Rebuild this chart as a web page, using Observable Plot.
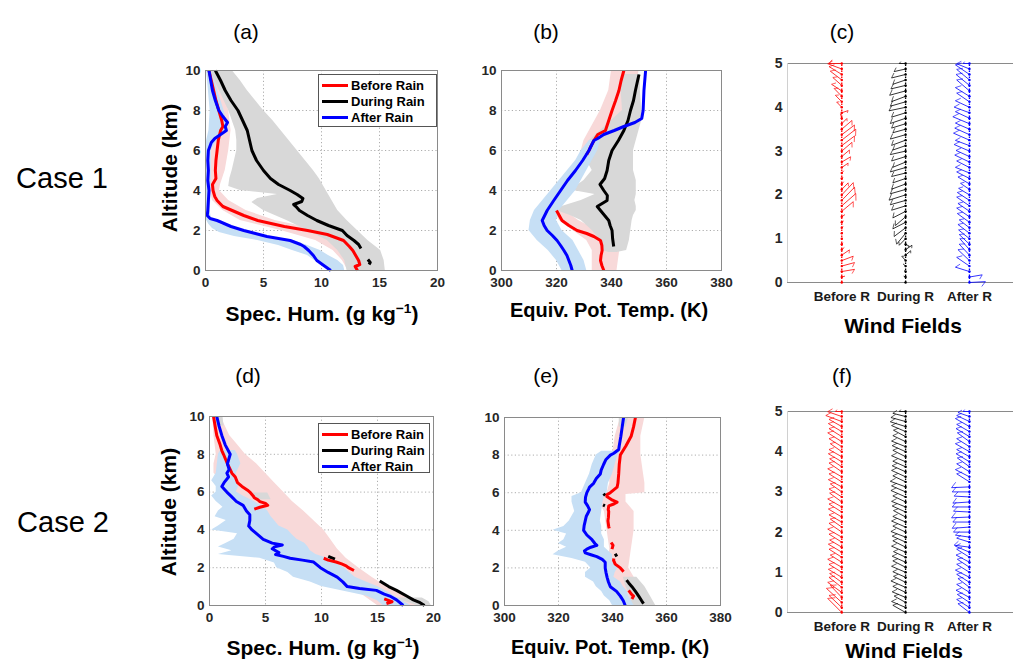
<!DOCTYPE html>
<html><head><meta charset="utf-8">
<script src="https://cdn.jsdelivr.net/npm/d3@7"></script>
<script src="https://cdn.jsdelivr.net/npm/@observablehq/plot@0.6"></script>
<style>
body{margin:0;background:#fff;}
#wrap{position:relative;width:1013px;height:662px;overflow:hidden;font-family:"Liberation Sans",Arial,sans-serif;color:#000;}
#wrap svg{position:absolute;left:0;top:0;}
.lbl{position:absolute;white-space:nowrap;line-height:1;}
.lbl sup{font-size:0.65em;vertical-align:0.55em;line-height:0;}
.legend{position:absolute;border:1px solid #555;background:#fff;box-sizing:border-box;font-weight:bold;font-size:13px;padding:2px 0 0 3px;white-space:nowrap;}
.legend .row{display:flex;align-items:center;height:16px;}
.legend .sw{display:inline-block;width:26px;height:3px;margin-right:3px;flex:none;}
</style></head>
<body><div id="wrap"></div>
<script>
// ---------- Case 1 : specific humidity (g/kg), rows are [altitude km, value] ----------
const a_before = [[10,0.3],[9.5,0.5],[9,0.7],[8.5,0.9],[8,1.15],[7.5,1.4],[7.2,1.5],[7,1.3],[6.5,1.1],[6,1.0],[5.5,0.9],[5,0.85],[4.6,0.9],[4.3,0.6],[4,0.65],[3.7,0.8],[3.5,1.0],[3.2,1.5],[3,2.3],[2.75,3.3],[2.5,4.5],[2.2,6.8],[2,8.8],[1.8,10.5],[1.5,11.9],[1.2,12.4],[1,12.7],[0.7,13.0],[0.5,13.2],[0.3,13.3],[0.2,12.9],[0,13.1]];
const a_during = [[10,0.85],[9.5,1.3],[9,1.7],[8.5,2.2],[8,2.8],[7.5,3.2],[7,3.6],[6.5,3.8],[6,4.0],[5.5,4.4],[5,5.0],[4.6,5.6],[4.3,6.3],[4,7.3],[3.8,7.9],[3.6,8.4],[3.45,8.3],[3.3,7.6],[3.2,7.8],[3,8.1],[2.75,8.8],[2.5,9.6],[2.25,10.6],[2,11.8],[1.75,12.2],[1.5,12.8],[1.3,13.2],[1.1,13.4],[1.0,NaN],[0.55,14.0],[0.4,14.2],[0.3,14.1]];
const a_after = [[10,0.3],[9.5,0.45],[9,0.6],[8.5,0.85],[8,1.15],[7.7,1.5],[7.4,1.9],[7.2,1.7],[7,1.8],[6.8,1.3],[6.6,0.8],[6.4,0.5],[6,0.25],[5.5,0.2],[5,0.25],[4.5,0.2],[4,0.3],[3.5,0.25],[3,0.2],[2.75,0.15],[2.6,0.4],[2.5,1.0],[2.3,1.8],[2.2,2.2],[2,3.3],[1.85,4.3],[1.7,5.3],[1.5,7.3],[1.3,8.2],[1.2,8.5],[1,8.9],[0.75,9.3],[0.5,9.6],[0.25,10.2],[0,10.8]];
// spread bands: [altitude, low, high]
const a_grayBand = [[10,0.3,2.3],[9.5,0.8,3.0],[9,1.2,3.6],[8.5,1.6,4.3],[8,2.0,5.0],[7.5,2.3,5.8],[7,2.6,6.5],[6.5,2.7,7.2],[6,2.7,7.9],[5.5,2.5,8.6],[5,2.3,9.3],[4.6,2.1,9.8],[4.2,2.0,10.2],[4.0,3.0,10.4],[3.8,6.2,10.6],[3.6,4.5,10.8],[3.4,4.0,11.0],[3.0,5.0,11.4],[2.5,7.0,12.2],[2,8.8,13.1],[1.5,10.5,14.0],[1,11.4,15.1],[0.5,12.0,15.4],[0,12.2,15.5]];
const a_pinkBand = [[10,0.2,0.9],[9,0.4,1.5],[8,0.5,2.0],[7,0.6,2.2],[6,0.5,2.0],[5,0.5,1.7],[4.3,0.4,1.3],[4,0.4,1.2],[3.5,0.6,2.0],[3,1.5,3.5],[2.5,3.0,6.0],[2,6.5,10.0],[1.5,9.5,12.5],[1,11.0,13.5],[0.5,11.8,13.8],[0,12.3,14.0]];
const a_blueBand = [[10,0.1,0.5],[8,0.4,1.6],[7,0.3,2.0],[6.5,0.1,1.0],[6,0,0.5],[4,0,0.5],[3,0,0.4],[2.6,0,0.5],[2.3,0.3,1.3],[2.1,0.6,2.5],[1.9,1.2,3.5],[1.7,2.5,5.0],[1.5,4.5,7.6],[1.25,6.3,8.8],[1,7.5,9.9],[0.75,8.8,10.6],[0.5,9.4,11.4],[0.25,10.2,11.9],[0,10.8,12.0]];

// ---------- Case 1 : equivalent potential temperature (K) ----------
const b_before = [[10,344.5],[9.5,343.5],[9,342.7],[8.5,341.5],[8,340.2],[7.5,339],[7,337.8],[6.8,335],[6.5,333.6],[6.2,332.5],[6,331.8],[5.8,331],[5.0,NaN],[3,320],[2.75,321],[2.5,322],[2.25,324.5],[2,327.5],[1.85,331],[1.7,333.6],[1.5,336],[1.25,336.5],[1,336.6],[0.75,336.2],[0.5,336],[0.25,336.5],[0,337.2]];
const b_during = [[9.8,350],[9.5,349.5],[9,348.7],[8.5,348],[8,346.9],[7.5,346],[7,344.5],[6.5,342.5],[6,340.2],[5.5,339],[5,338.4],[4.6,337.5],[4.3,335.8],[4,337.2],[3.75,338.5],[3.5,338.4],[3.3,336],[3.2,334.8],[3,336],[2.75,337.5],[2.5,339],[2.25,339.5],[2,340.2],[1.6,340.4],[1.2,340.8]];
const b_after = [[10,352.4],[9,351.8],[8,351.5],[7.6,351],[7.4,348.5],[7.2,344.5],[7,341],[6.8,337.2],[6.6,335],[6.5,333.6],[6.2,332.5],[6,331.8],[5.5,329.5],[5,326.9],[4.5,324],[4,321.5],[3.5,319],[3,316.6],[2.5,314.8],[2.25,315.5],[2,316.6],[1.75,318.5],[1.5,320.2],[1.25,321.5],[1,322.7],[0.75,323.8],[0.5,324.5],[0.25,325.2],[0,325.7]];
const b_grayBand = [[9.8,344,350.5],[9,343.5,350.5],[8,344,351],[7.5,340,351],[7,336,350],[6.5,332,349],[6,330,348],[5.5,331,348],[5,333,348],[4.5,330,349],[4.2,327,349],[4.0,326,349],[3.8,334,349],[3.5,329,348.5],[3.2,322,349],[3.0,320,349],[2.75,325,348],[2.5,329,347.5],[2,333,347],[1.5,336,346.5],[1,337,345.5],[0.9,339,342]];
const b_pinkUpper = [[10,340,350],[9,339,349],[8,336,348],[7.5,334,347],[7,332,345],[6.5,330,340],[6,329,336],[5.5,330,333],[5.3,330,332]];
const b_pinkLower = [[3,319,323],[2.5,321,328],[2,326,335],[1.5,331,340],[1,333,343],[0.5,333,342.5],[0,333,342]];
const b_blueBand = [[6.5,332,336],[6,329,335],[5.5,327,333],[5,324,331],[4.5,321,329],[4,318,327],[3.5,315,324],[3,312,321],[2.5,310.5,320],[2,310,322],[1.5,313,326],[1,317,328],[0.5,320,330],[0,322,331]];

// ---------- Case 2 : specific humidity ----------
const d_before = [[10,0.36],[9.5,0.5],[9,0.65],[8.5,0.95],[8.2,1.1],[8,1.25],[7.5,1.6],[7,2.0],[6.8,2.3],[6.5,2.5],[6.3,2.9],[6.1,3.4],[6,3.6],[5.8,3.9],[5.7,4.0],[5.6,4.3],[5.5,4.5],[5.4,5.0],[5.3,5.2],[5.2,4.5],[5.1,4.0],[4.0,NaN],[2.5,10.2],[2.4,10.6],[2.3,11.3],[2.2,11.8],[2.1,12.2],[2,12.4],[1.85,12.9],[1.0,NaN],[0.35,15.6],[0.2,16.3],[0.1,15.8]];
const d_during = [[2.6,10.6],[2.45,11.2],[2.0,NaN],[1.3,15.2],[1.0,16.0],[0.8,16.7],[0.5,17.6],[0.3,18.2],[0.15,18.8],[0,19.2]];
const d_after = [[10,0.65],[9.5,0.85],[9,1.1],[8.5,1.4],[8,1.85],[7.7,1.7],[7.5,1.6],[7.2,1.75],[7,1.55],[6.8,1.7],[6.5,1.3],[6.3,1.1],[6.1,1.4],[6,1.55],[5.8,1.9],[5.5,2.4],[5.3,3.0],[5,3.3],[4.8,3.6],[4.5,3.6],[4.2,3.5],[4,3.8],[3.8,4.2],[3.5,4.8],[3.3,5.6],[3.2,6.5],[3.1,5.8],[3.0,5.6],[2.8,6.2],[2.7,5.9],[2.6,6.6],[2.5,7.2],[2.4,8.3],[2.3,9.3],[2.15,9.6],[2,9.9],[1.75,10.6],[1.5,11.4],[1.25,11.9],[1,12.3],[0.9,13.4],[0.8,14.9],[0.6,15.6],[0.5,16.1],[0.3,16.7],[0.15,17.0],[0,17.3]];
const d_pinkBand = [[10,0.3,1.0],[9,0.4,1.8],[8.5,0.5,2.5],[8,0.6,3.2],[7.5,0.4,4.2],[7,0.4,5.0],[6.5,1.2,5.8],[6,1.6,6.6],[5.5,2.5,7.4],[5,3.2,8.4],[4.5,3.8,9.3],[4,4.5,10.2],[3.5,5.5,10.8],[3,7.0,11.4],[2.5,9.0,12.2],[2,10.2,13.3],[1.5,11.3,14.5],[1,12.5,15.8],[0.5,13.8,17.5],[0,15.0,19.0]];
const d_grayTop = [[10,0.3,1.2],[9.5,0.5,1.3]];
const d_grayMid = [[5.95,3.5,5.2],[5.6,4.5,5.5]];
const d_grayLow = [[0.4,16.5,19.0],[0.2,17.5,19.6],[0,18.5,19.8]];
const d_blueBand = [[8.2,1.0,2.3],[8,0.8,2.5],[7.5,0.7,2.8],[7,0.6,2.4],[6.6,0.2,2.4],[6.3,0.6,2.6],[6,0.6,2.4],[5.8,0.2,3.0],[5.5,0.6,4.0],[5.2,1.2,4.8],[5,0.8,5.2],[4.7,0.5,5.5],[4.5,1.5,5.8],[4.2,0.8,6.2],[4,0.2,7.0],[3.8,2.5,7.3],[3.5,2.2,7.8],[3.3,1.5,8.5],[3.1,0.8,8.8],[2.9,2.0,9.0],[2.7,0.8,9.5],[2.5,4.5,10.5],[2.25,5.8,11.2],[2,6.0,12.0],[1.75,7.0,12.5],[1.5,7.5,13.0],[1.25,9.0,14.0],[1,10.0,15.0],[0.75,12.0,15.8],[0.5,14.0,16.5],[0.25,15.0,17.2],[0,15.5,18.0]];

// ---------- Case 2 : equivalent potential temperature ----------
const e_before = [[10,348.5],[9.5,347.8],[9,346.9],[8.5,345],[8,342.9],[7.5,342.5],[7,342.3],[6.5,342],[6.3,341.7],[6.1,340],[6,339.2],[5.9,338],[5.8,337.9],[5.6,340],[5.5,341.7],[5.4,340.5],[5.3,338.6],[5.1,338.4],[5,338.6],[4.7,338.5],[4.5,338.3],[4.2,338.6],[4.1,338.8],[3.8,NaN],[3.35,339.5],[3.2,340.2],[3.0,339.8],[2.8,NaN],[2.5,340.5],[2.4,340.4],[2.2,341.0],[2,342.9],[1.9,343.5],[1.8,344.1],[1.2,NaN],[0.8,346],[0.6,347],[0.5,347.8],[0.35,347.2]];
const e_during = [[5.95,336.7],[5.85,337.3],[5.6,NaN],[5.35,336.5],[5.3,337.2],[4.0,NaN],[2.75,341],[2.6,341.6],[2.0,NaN],[1.35,345.2],[1.2,346],[1.0,347.2],[0.75,348.5],[0.5,349.7],[0.25,350.8],[0.1,351.5]];
const e_after = [[10,344.1],[9.5,343.6],[9,343.1],[8.5,342.5],[8.3,342.3],[8.1,340.5],[8,339.2],[7.75,337.5],[7.5,336.7],[7.2,335.8],[7,335.5],[6.75,334],[6.5,333],[6.3,331.5],[6.2,331.2],[6,330.5],[5.75,330],[5.5,329.9],[5.3,330.8],[5.1,331.5],[5,331.2],[4.75,330.3],[4.5,329.9],[4.25,329.5],[4,329.3],[3.75,330.5],[3.5,332.4],[3.3,333.5],[3.2,334.2],[3.1,332],[3,330.5],[2.9,329.6],[2.8,329.9],[2.7,332],[2.6,334.2],[2.45,336.2],[2.3,337.3],[2.1,337.3],[2,337.3],[1.75,337.6],[1.5,338],[1.25,338.5],[1,339.2],[0.75,341.5],[0.5,342.9],[0.25,344],[0,344.7]];
const e_pinkBand = [[10,343,352],[9,341,350.5],[8,340,350.5],[7,339,351.5],[6.5,339,352],[6,338,352],[5.9,336,345],[5.5,335,345],[5,337,348],[4.5,337.5,348],[4,338,348],[3.5,338.5,347.5],[3,339,347],[2.5,338.5,346.5],[2,338,346],[1.5,339,348],[1,340.5,350],[0.5,342.5,352],[0,344,354]];
const e_grayTop = [[10,342.5,346],[9.5,342.5,345]];
const e_grayMid = [[6,336,339],[5.8,336,338]];
const e_grayLow = [[1.5,344,349],[1,345,352],[0.5,346.5,354],[0,347,356]];
const e_blueBand = [[8.2,336,343],[8,334,342],[7.5,332.5,341],[7,331.5,340],[6.5,330,338.5],[6,328.5,338],[5.8,325,337],[5.5,325,336.5],[5,326,336],[4.5,324,335.5],[4.2,322,336],[4,318,336],[3.8,323,336],[3.5,322,337],[3.3,320,337],[3.1,323,337],[2.9,320,338.5],[2.7,318,340],[2.5,325,340],[2.3,330,340],[2,332,342],[1.75,330,341],[1.5,330,340.5],[1.25,333,343],[1,334,344],[0.75,336,345.5],[0.5,337,346],[0.25,339,347],[0,340,348]];

// ---------- Wind sticks: level (km), u offset (staff units), v offset (km) ----------
const windLevels = [0,0.125,0.25,0.375,0.5,0.625,0.75,0.875,1,1.125,1.25,1.375,1.5,1.625,1.75,1.875,2,2.125,2.25,2.375,2.5,2.625,2.75,2.875,3,3.125,3.25,3.375,3.5,3.625,3.75,3.875,4,4.125,4.25,4.375,4.5,4.625,4.75,4.875,5];
const windCats = ["Before R","During R","After R"];
const c_beforeU = [0.02,0.05,0.2,0.2,0.18,0.12,0.04,0.02,0.01,0.02,0.02,0.03,0.05,0.18,0.22,0.2,0.18,0.1,0.03,0.02,0.03,0.1,0.14,0.12,0.16,0.2,0.22,0.2,0.16,0.08,-0.02,0.1,-0.08,-0.1,-0.12,-0.16,-0.14,-0.18,-0.2,-0.22,-0.2];
const c_beforeV = [0,0.02,0.05,0.08,0.1,0.12,0.05,0.03,0.02,0.02,0.03,0.03,0.05,0.22,0.28,0.3,0.28,0.15,0.05,0.03,0.05,0.1,0.12,0.15,0.2,0.22,0.25,0.22,0.2,0.12,0.1,0.05,0.12,0.15,0.18,0.15,0.18,0.2,0.18,0.12,0];
const c_duringU = [-0.02,-0.03,-0.02,-0.04,-0.06,0.08,0.1,0.06,-0.1,-0.14,-0.18,-0.2,-0.16,-0.2,-0.22,-0.24,-0.26,-0.24,-0.22,-0.2,-0.22,-0.24,-0.2,-0.22,-0.24,-0.2,-0.22,-0.24,-0.2,-0.22,-0.24,-0.22,-0.26,-0.24,-0.22,-0.25,-0.23,-0.2,-0.22,-0.18,-0.1];
const c_duringV = [0,0.02,0.02,0.05,0.1,0.1,0.1,-0.05,-0.15,-0.25,-0.2,-0.15,-0.2,-0.15,-0.1,-0.1,-0.12,-0.1,-0.12,-0.1,-0.08,-0.1,-0.12,-0.1,-0.08,-0.1,-0.12,-0.1,-0.08,-0.1,-0.12,-0.1,-0.08,-0.1,-0.12,-0.1,-0.08,-0.1,-0.08,-0.06,0];
const c_afterU = [0.25,0.2,-0.22,-0.2,-0.18,-0.16,-0.15,-0.16,-0.17,-0.18,-0.16,-0.19,-0.2,-0.18,-0.2,-0.19,-0.17,-0.14,-0.18,-0.2,-0.22,-0.2,-0.23,-0.21,-0.24,-0.22,-0.25,-0.23,-0.22,-0.26,-0.22,-0.24,-0.22,-0.2,-0.22,-0.2,-0.21,-0.2,-0.22,-0.2,-0.1];
const c_afterV = [0.02,0.05,0.1,0.2,0.25,0.25,0.25,0.22,0.2,0.2,0.18,0.2,0.2,0.18,0.2,0.18,0.15,0.14,0.16,0.15,0.13,0.15,0.16,0.14,0.15,0.12,0.16,0.15,0.14,0.16,0.15,0.13,0.15,0.2,0.2,0.25,0.25,0.24,0.22,0.12,0];
const f_beforeU = [-0.22,-0.2,-0.24,-0.18,-0.22,-0.2,-0.19,-0.21,-0.2,-0.22,-0.18,-0.2,-0.21,-0.19,-0.2,-0.22,-0.2,-0.18,-0.2,-0.21,-0.2,-0.22,-0.19,-0.2,-0.18,-0.21,-0.2,-0.22,-0.2,-0.19,-0.21,-0.2,-0.18,-0.2,-0.22,-0.2,-0.21,-0.2,-0.25,-0.22,-0.1];
const f_beforeV = [0.35,0.3,0.35,0.3,0.25,0.25,0.22,0.2,0.2,0.2,0.18,0.2,0.2,0.18,0.2,0.2,0.22,0.2,0.18,0.2,0.2,0.2,0.22,0.2,0.2,0.18,0.2,0.2,0.22,0.2,0.2,0.18,0.2,0.2,0.22,0.2,0.2,0.18,0.15,0.12,0];
const f_duringU = [-0.2,-0.22,-0.18,-0.21,-0.2,-0.23,-0.19,-0.2,-0.22,-0.2,-0.21,-0.19,-0.22,-0.2,-0.21,-0.23,-0.2,-0.22,-0.2,-0.19,-0.21,-0.22,-0.2,-0.23,-0.22,-0.24,-0.2,-0.22,-0.21,-0.2,-0.22,-0.2,-0.21,-0.22,-0.2,-0.19,-0.22,-0.24,-0.23,-0.2,-0.1];
const f_duringV = [0.18,0.15,0.16,0.14,0.15,0.16,0.15,0.14,0.15,0.16,0.15,0.14,0.15,0.16,0.15,0.14,0.15,0.15,0.14,0.16,0.15,0.14,0.15,0.16,0.15,0.14,0.15,0.16,0.15,0.14,0.15,0.16,0.15,0.14,0.15,0.16,0.15,0.12,0.1,0.08,0];
const f_afterU = [-0.18,-0.2,-0.19,-0.21,-0.2,-0.18,-0.2,-0.22,-0.2,-0.19,-0.21,-0.2,-0.22,-0.24,-0.2,-0.22,-0.25,-0.27,-0.26,-0.28,-0.25,-0.27,-0.26,-0.24,-0.27,-0.28,-0.2,-0.22,-0.2,-0.19,-0.21,-0.2,-0.22,-0.2,-0.19,-0.21,-0.2,-0.22,-0.2,-0.18,-0.1];
const f_afterV = [0.22,0.2,0.2,0.18,0.2,0.22,0.2,0.18,0.2,0.2,0.18,0.2,0.15,0.05,0.1,0.05,0,-0.03,0,-0.02,0.02,0,-0.03,0.02,0,-0.02,0.2,0.18,0.2,0.22,0.2,0.18,0.2,0.2,0.22,0.2,0.18,0.2,0.15,0.1,0];

// ---------- tick values ----------
const qTicks = [0,5,10,15,20];
const thetaTicks = [300,320,340,360,380];
const altTicks = [0,2,4,6,8,10];
const windAltTicks = [0,1,2,3,4,5];

const RED = "#ff0000", BLACK = "#000000", BLUE = "#0000ff";
const GRAY_F = "#d8d8d8", PINK_F = "#f8d9d9", BLUE_F = "#c6dff5";
const W = 1013, H = 662;
const FONT = "'Liberation Sans', Arial, sans-serif";
const wrap = document.getElementById("wrap");

function band(data, fill) {
  return Plot.areaX(data, {y: d => d[0], x1: d => d[1], x2: d => d[2], fill, curve: "linear"});
}
function prof(data, stroke) {
  return Plot.line(data, {x: d => d[1], y: d => d[0], stroke, strokeWidth: 3, strokeLinejoin: "round", strokeLinecap: "butt"});
}
function profilePanel({frame: [l, t, r, b], xDomain, xTicks, bands, lines}) {
  const grid = {stroke: "#9a9a9a", strokeOpacity: 0.9, strokeDasharray: "1.2,2.4", strokeWidth: 0.9};
  return Plot.plot({
    width: W, height: H,
    marginLeft: l, marginRight: W - r, marginTop: t, marginBottom: H - b,
    style: {background: "transparent", overflow: "visible", fontFamily: FONT},
    x: {domain: xDomain, axis: null},
    y: {domain: [0, 10], axis: null},
    marks: [
      Plot.gridX({ticks: xTicks.slice(1, -1), ...grid}),
      Plot.gridY({ticks: altTicks.slice(1, -1), ...grid}),
      ...bands.map(([d, f]) => band(d, f)),
      ...lines.map(([d, s]) => prof(d, s)),
      Plot.frame({stroke: "#8a8a8a"}),
      Plot.axisX({ticks: xTicks, tickSize: 0, tickPadding: 7, fontWeight: "bold", fontSize: 13.5, color: "#262626", label: null}),
      Plot.axisY({ticks: altTicks, tickSize: 0, tickPadding: 5, fontWeight: "bold", fontSize: 13.5, color: "#262626", label: null})
    ]
  });
}
function windPanel({frame: [l, t, r, b], series}) {
  const xDomain = [0.15, 3.69];
  // pixel size of one data unit, used only to shape the small barb glyph at each stick tip
  const pxX = (r - l) / (xDomain[1] - xDomain[0]), pxY = (b - t) / 5;
  const ang = -130 * Math.PI / 180, frac = 0.38;
  const sticks = series.flatMap(s => windLevels.map((z, i) => {
    const px = s.u[i] * pxX, py = s.v[i] * pxY;
    const bx = (px * Math.cos(ang) - py * Math.sin(ang)) * frac;
    const by = (px * Math.sin(ang) + py * Math.cos(ang)) * frac;
    const x2 = s.pos + s.u[i], y2 = z + s.v[i];
    const long = Math.hypot(px, py) > 4;
    return {x1: s.pos, y1: z, x2, y2, x3: long ? x2 + bx / pxX : x2, y3: long ? y2 + by / pxY : y2, c: s.color};
  }));
  const staffDots = series.flatMap(s => windLevels.map(z => ({x: s.pos, y: z, c: s.color})));
  return Plot.plot({
    width: W, height: H,
    marginLeft: l, marginRight: W - r, marginTop: t, marginBottom: H - b,
    style: {background: "transparent", overflow: "visible", fontFamily: FONT},
    x: {type: "linear", domain: xDomain, axis: null},
    y: {type: "linear", domain: [0, 5], axis: null},
    marks: [
      Plot.ruleY([0, 5], {stroke: "#8a8a8a"}),
      Plot.ruleX([xDomain[0]], {stroke: "#d0d0d0"}),
      Plot.link(sticks, {x1: "x1", y1: "y1", x2: "x2", y2: "y2", stroke: "c", strokeWidth: 1, strokeOpacity: 0.8}),
      Plot.link(sticks, {x1: "x2", y1: "y2", x2: "x3", y2: "y3", stroke: "c", strokeWidth: 0.9, strokeOpacity: 0.7}),
      Plot.ruleX(series, {x: "pos", y1: 0, y2: 5, stroke: "color", strokeWidth: 1.3, strokeDasharray: "1.5,1.5"}),
      Plot.dot(staffDots, {x: "x", y: "y", r: 1.2, fill: "c", stroke: null}),
      Plot.axisX({ticks: [1, 2, 3], tickFormat: d => windCats[d - 1], tickSize: 0, tickPadding: 9, fontWeight: "bold", fontSize: 13.5, color: "#1a1a1a", label: null}),
      Plot.axisY({ticks: windAltTicks, tickFormat: d => String(d), tickSize: 0, tickPadding: 5, fontWeight: "bold", fontSize: 14, color: "#262626", label: null})
    ]
  });
}

const panels = [
  profilePanel({frame: [205, 70, 437, 270], xDomain: [0, 20], xTicks: qTicks,
    bands: [[a_pinkBand, PINK_F], [a_grayBand, GRAY_F], [a_blueBand, BLUE_F]],
    lines: [[a_before, RED], [a_during, BLACK], [a_after, BLUE]]}),
  profilePanel({frame: [501, 70, 721, 270], xDomain: [300, 380], xTicks: thetaTicks,
    bands: [[b_pinkUpper, PINK_F], [b_pinkLower, PINK_F], [b_grayBand, GRAY_F], [b_blueBand, BLUE_F]],
    lines: [[b_before, RED], [b_during, BLACK], [b_after, BLUE]]}),
  windPanel({frame: [787, 63, 1013, 282], series: [
    {pos: 1, color: RED, u: c_beforeU, v: c_beforeV},
    {pos: 2, color: BLACK, u: c_duringU, v: c_duringV},
    {pos: 3, color: BLUE, u: c_afterU, v: c_afterV}]}),
  profilePanel({frame: [209, 416, 433, 605], xDomain: [0, 20], xTicks: qTicks,
    bands: [[d_pinkBand, PINK_F], [d_grayTop, GRAY_F], [d_grayMid, GRAY_F], [d_grayLow, GRAY_F], [d_blueBand, BLUE_F]],
    lines: [[d_during, BLACK], [d_before, RED], [d_after, BLUE]]}),
  profilePanel({frame: [504, 417, 720, 605], xDomain: [300, 380], xTicks: thetaTicks,
    bands: [[e_pinkBand, PINK_F], [e_grayTop, GRAY_F], [e_grayMid, GRAY_F], [e_grayLow, GRAY_F], [e_blueBand, BLUE_F]],
    lines: [[e_during, BLACK], [e_before, RED], [e_after, BLUE]]}),
  windPanel({frame: [787, 411, 1013, 612], series: [
    {pos: 1, color: RED, u: f_beforeU, v: f_beforeV},
    {pos: 2, color: BLACK, u: f_duringU, v: f_duringV},
    {pos: 3, color: BLUE, u: f_afterU, v: f_afterV}]})
];
panels.forEach(p => wrap.appendChild(p));

function label(html, x, y, css, rotate) {
  const el = document.createElement("div");
  el.className = "lbl";
  el.innerHTML = html;
  el.style.cssText += `left:${x}px;top:${y}px;transform:translate(-50%,-50%)${rotate ? " rotate(-90deg)" : ""};` + css;
  wrap.appendChild(el);
}
const titleCss = "font-size:21px;";
[["(a)", 246, 31], ["(b)", 546, 31], ["(c)", 842, 31], ["(d)", 248, 375], ["(e)", 546, 375], ["(f)", 842, 375]]
  .forEach(([t, x, y]) => label(t, x, y, titleCss));
label("Case 1", 62, 178, "font-size:29px;");
label("Case 2", 63, 522, "font-size:29px;");
const axCss = "font-size:21px;font-weight:bold;";
label("Spec. Hum. (g kg<sup>−1</sup>)", 322, 313, axCss);
label("Equiv. Pot. Temp. (K)", 609, 310, "font-size:20px;font-weight:bold;");
label("Wind Fields", 903, 325, axCss);
label("Spec. Hum. (g kg<sup>−1</sup>)", 323, 647, axCss);
label("Equiv. Pot. Temp. (K)", 610, 647, "font-size:20px;font-weight:bold;");
label("Wind Fields", 904, 650, axCss);
label("Altitude (km)", 169, 168, axCss, true);
label("Altitude (km)", 168, 512, axCss, true);

function legend(x, y, w, h) {
  const el = document.createElement("div");
  el.className = "legend";
  el.style.cssText += `left:${x}px;top:${y}px;width:${w}px;height:${h}px;`;
  [["Before Rain", RED], ["During Rain", BLACK], ["After Rain", BLUE]].forEach(([t, c]) => {
    const row = document.createElement("div");
    row.className = "row";
    row.innerHTML = `<span class="sw" style="background:${c}"></span><span>${t}</span>`;
    el.appendChild(row);
  });
  wrap.appendChild(el);
}
legend(318, 74, 119, 53);
legend(318, 423, 112, 50);
</script>
</body></html>
